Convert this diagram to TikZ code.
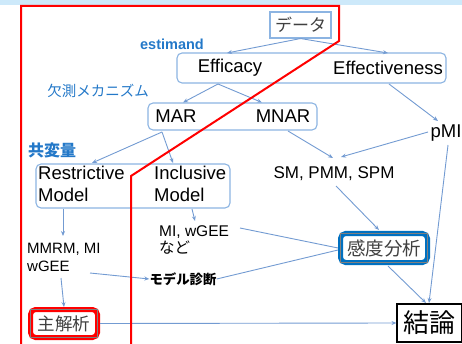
\documentclass[tikz,border=0pt]{standalone}
\usepackage{fontspec}
\setmainfont{Liberation Sans}
\newfontfamily\jp{Noto Sans CJK JP}
\usetikzlibrary{arrows.meta}
\definecolor{conncol}{RGB}{115,155,210}
\definecolor{boxb}{RGB}{140,180,226}
\definecolor{lblue}{RGB}{35,120,200}
\definecolor{kblue}{RGB}{0,112,192}
\definecolor{band}{RGB}{205,233,250}
\definecolor{dgray}{RGB}{64,64,64}
\begin{document}
\begin{tikzpicture}[x=1pt,y=-1pt,
  conn/.style={draw=conncol, line width=0.9pt, -{Stealth[length=5pt,width=4pt]}},
  plainline/.style={draw=conncol, line width=0.9pt},
  lbox/.style={draw=boxb, line width=1.1pt, rounded corners=5pt, fill=white, inner sep=0pt},
  txt/.style={font=\fontsize{18.5}{22}\selectfont, inner sep=0pt},
  smalltxt/.style={font=\fontsize{15}{18}\selectfont, inner sep=0pt, align=left, anchor=west},
  lbl/.style={text=lblue, inner sep=0pt}]
\useasboundingbox (0,0) rectangle (462,344);
\fill[band] (0,0) rectangle (462,5);

% boxes
\node[lbox, rounded corners=0pt, minimum width=61pt, minimum height=26pt,
      font=\jp\fontsize{17}{20}\selectfont, text=dgray] (data) at (300.5,25) {データ};
\node[lbox, minimum width=269pt, minimum height=30pt] (eff) at (311.5,68) {};
\node[txt] (efficacy) at (230,68) {Efficacy};
\node[txt] (effect) at (388,68) {Effectiveness};
\node[lbox, minimum width=169pt, minimum height=27pt] (mar) at (232.5,116.5) {};
\node[txt] (mart) at (176,116) {MAR};
\node[txt] (mnart) at (283,116) {MNAR};
\node[lbox, minimum width=194pt, minimum height=44pt] (cov) at (133,186) {};
\node[txt, align=left, anchor=west] (restr) at (38,184) {Restrictive\\Model};
\node[txt, align=left, anchor=west] (incl) at (154,184) {Inclusive\\Model};
\node[font=\fontsize{17}{20}\selectfont, inner sep=0pt] (sm) at (334,174) {SM, PMM, SPM};
\node[txt] (pmi) at (446,133) {pMI};
\node[smalltxt] (mmrm) at (27,257) {MMRM, MI\\wGEE};
\node[font=\fontsize{15.5}{16.5}\selectfont, inner sep=0pt, align=left, anchor=west] (miw) at (159,240) {MI, wGEE\\{\jp など}};
\node[font=\jp\bfseries\fontsize{13.4}{16}\selectfont, inner sep=0pt] (diag) at (183,279) {モデル診断};

% labels
\node[lbl, font=\bfseries\fontsize{14.5}{17}\selectfont] (estl) at (172,44) {estimand};
\node[lbl, font=\jp\fontsize{14.5}{17}\selectfont] (missl) at (98,91) {欠測メカニズム};
\node[lbl, font=\jp\bfseries\fontsize{16}{18}\selectfont] (covl) at (52,150) {共変量};

% special boxes
\node[draw=kblue, line width=5pt, rounded corners=5pt, fill=white,
      minimum width=87pt, minimum height=29pt, inner sep=0pt,
      font=\jp\fontsize{18.5}{22}\selectfont, text=dgray] (kando) at (384,248) {感度分析};
\draw[gray, line width=0.6pt] ([xshift=2.5pt,yshift=-2.5pt]kando.north west) rectangle ([xshift=-2.5pt,yshift=2.5pt]kando.south east);
\node[draw=red, line width=5pt, rounded corners=5pt, fill=white,
      minimum width=67pt, minimum height=28pt, inner sep=0pt,
      font=\jp\fontsize{17.5}{21}\selectfont, text=dgray] (main) at (64,323.5) {主解析};
\draw[gray, line width=0.6pt] ([xshift=2.5pt,yshift=-2.5pt]main.north west) rectangle ([xshift=-2.5pt,yshift=2.5pt]main.south east);
\node[draw=black, line width=1.1pt, minimum width=65pt, minimum height=38pt, inner sep=0pt,
      font=\jp\fontsize{26}{30}\selectfont] (concl) at (429.5,323) {結論};

% connector points
\coordinate (effS) at (218,84);
\coordinate (marS) at (162,132);
\coordinate (mnarS) at (288,131);
\coordinate (effectS) at (389,84);

% connectors
\draw[conn] (data.south) -- (227,53);
\draw[conn] (data.south) -- (388,53);
\draw[conn] (effS) -- (183,102.5);
\draw[conn] (effS) -- (262,102.5);
\draw[conn] (marS) -- (92,163);
\draw[conn] (marS) -- (173,163);
\draw[conn] (mnarS) -- (333,158);
\draw[conn] (effectS) -- (438,121);
\draw[conn] (428,132) -- (341,157);
\draw[conn] (336,186) -- (379,230);
\draw[conn] (448,145) -- (429,303);
\draw[conn] (388,266) -- (426,303);
\draw[conn] (63,209) -- (63,236);
\draw[conn] (192,209) -- (195,221);
\draw[conn] (90,273) -- (diag.west);
\draw[plainline] (diag.east) -- (338,250);
\draw[plainline] (240,228) -- (338,248);
\draw[conn] (61,278) -- (main.north);
\draw[conn] (main.east) -- (concl.west);

% red outline
\draw[red, line width=2pt] (21,345) -- (21,6) -- (339,6) -- (339,41) -- (131,176) -- (131,345);
\end{tikzpicture}
\end{document}
